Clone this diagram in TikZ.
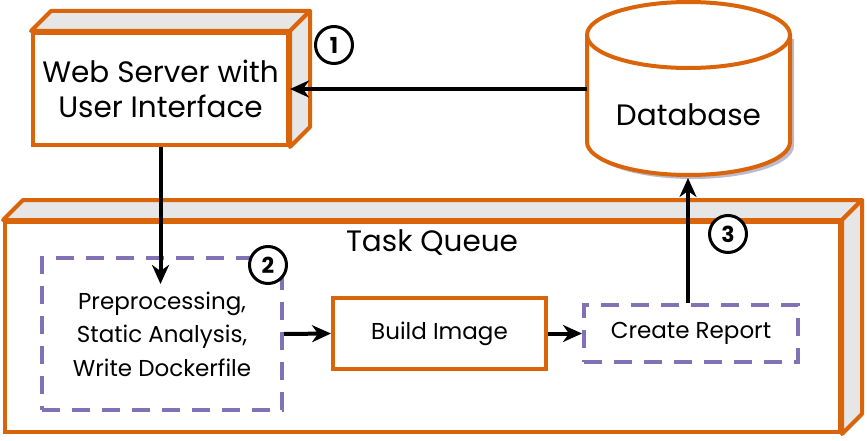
\documentclass[tikz,border=0pt]{standalone}
\usepackage{fontspec}
\setmainfont{Poppins}
\usetikzlibrary{arrows.meta,calc,positioning}
\definecolor{boxorange}{RGB}{217,100,10}
\definecolor{dashpurple}{RGB}{128,114,180}
\definecolor{sidegray}{RGB}{230,230,230}
\definecolor{shadowblue}{RGB}{188,188,208}

\tikzset{
  orangebox/.style={draw=boxorange, line width=4pt, fill=white, align=center, inner sep=0pt},
  dashbox/.style={draw=dashpurple, line width=4pt, dash pattern=on 18pt off 12pt, align=center, inner sep=0pt},
  sideface/.style={draw=boxorange, line width=4pt, fill=sidegray, line join=round},
  flow/.style={-{Stealth[length=19pt, width=17pt, inset=6pt]}, line width=4pt},
  stepnum/.style={circle, draw, line width=3pt, minimum size=37pt, inner sep=0pt, fill=white, font=\fontsize{22}{22}\selectfont\bfseries},
  bigtext/.style={font=\fontsize{29.5}{35}\selectfont},
  smalltext/.style={font=\fontsize{23}{33.5}\selectfont},
}

\begin{document}
\begin{tikzpicture}[x=1pt, y=1pt]
  \useasboundingbox (0,0) rectangle (867,440);
  % depth of the 3d boxes
  \def\offs{20}

  % Task queue (big 3d box)
  \node[orangebox, minimum width=835pt, minimum height=210pt] (queue) at (422.5,113) {};
  \draw[sideface] (queue.north west) -- ++(\offs,\offs) -- ($(queue.north east)+(\offs,\offs)$) -- (queue.north east) -- cycle;
  \draw[sideface] (queue.north east) -- ++(\offs,\offs) -- ($(queue.south east)+(\offs,\offs)$) -- (queue.south east) -- cycle;
  \node[bigtext] (queuelabel) at (432,197) {Task Queue};

  % Web server (small 3d box)
  \node[orangebox, bigtext, minimum width=255pt, minimum height=112pt] (web) at (160.5,351) {Web Server with\\User Interface};
  \draw[sideface] (web.north west) -- ++(\offs,\offs) -- ($(web.north east)+(\offs,\offs)$) -- (web.north east) -- cycle;
  \draw[sideface] (web.north east) -- ++(\offs,\offs) -- ($(web.south east)+(\offs,\offs)$) -- (web.south east) -- cycle;

  % Database cylinder with shadow
  \def\rx{101.5}
  \def\ry{33}
  \fill[shadowblue] (591,401) -- (591,294) arc[start angle=180, end angle=360, x radius=\rx, y radius=\ry] -- (794,401) -- cycle;
  \draw[boxorange, line width=4pt, fill=white] (587,405) -- (587,298) arc[start angle=180, end angle=360, x radius=\rx, y radius=\ry] -- (790,405) arc[start angle=0, end angle=180, x radius=\rx, y radius=\ry] -- cycle;
  \draw[boxorange, line width=4pt] (587,405) arc[start angle=180, end angle=360, x radius=\rx, y radius=\ry];
  \node[bigtext] (db) at (688.5,325) {Database};
  \coordinate (dbleft) at (587,351);
  \coordinate (dbbottom) at (688,262);

  % Steps inside the queue
  \node[dashbox, smalltext, minimum width=240pt, minimum height=152pt] (pre) at (162,106) {Preprocessing,\\Static Analysis,\\Write Dockerfile};
  \node[orangebox, smalltext, minimum width=213pt, minimum height=71pt] (build) at (439.5,106.5) {Build Image};
  \node[dashbox, smalltext, minimum width=214pt, minimum height=57pt] (report) at (691,106.5) {Create Report};
  \coordinate (prein) at (160.5,156);

  % Connectors
  \draw[flow] (dbleft) -- (web.east);
  \draw[flow] (web.south) -- (prein);
  \draw[flow] (pre.east) -- (build.west);
  \draw[flow] (build.east) -- (report.west);
  \draw[flow] (report.north -| dbbottom) -- (dbbottom);

  % Step numbers
  \node[stepnum] (one) at (334,395) {1};
  \node[stepnum] (two) at (268,175) {2};
  \node[stepnum] (three) at (728,206) {3};
\end{tikzpicture}
\end{document}
